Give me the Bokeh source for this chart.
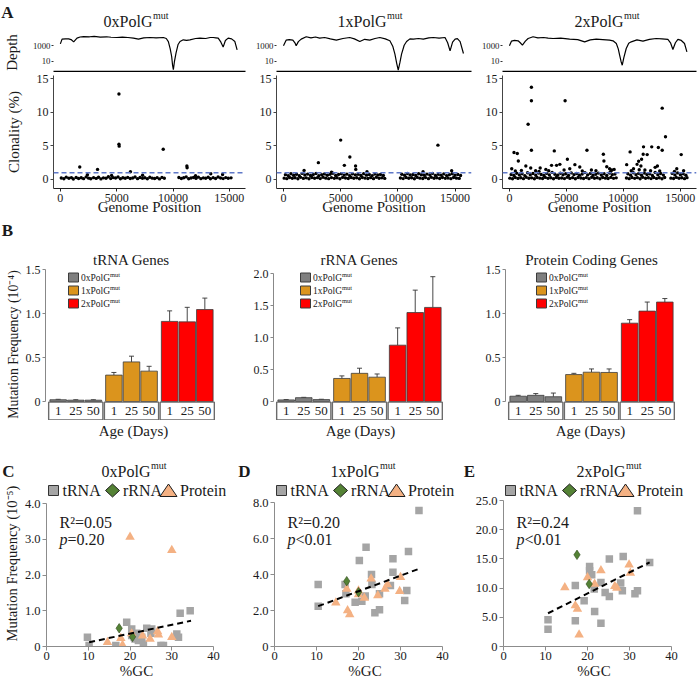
import math
from bokeh.plotting import figure
from bokeh.models import (Range1d, FactorRange, FixedTicker, Label, Span, BoxAnnotation, Title,
                          PolyAnnotation, Whisker, TeeHead, ColumnDataSource, BasicTickFormatter)
from bokeh.layouts import row, column
from bokeh.embed import file_html
from bokeh.resources import INLINE
from bokeh.core.properties import value

S = 1.0
def sc(v):
    return int(round(v * S))
FONT = "Liberation Serif"
INK = "#1a1a1a"

# ------------------------------------------------------------------ data
genotypes = ["0x", "1x", "2x"]
geno_names = ["0xPolG", "1xPolG", "2xPolG"]
ages = ["1", "25", "50"]
bar_colors = ["#7F7F7F", "#DB941D", "#FF0000"]

# A: read depth along genome (bp, depth)
depth_0x = [(0,1800),(150,7400),(450,8200),(735,8000),(950,6500),(1180,3300),(1475,10000),(1750,14000),
            (2065,16000),(2600,15000),(3000,17000),(3540,13500),(4100,15000),(4500,13000),(5015,12000),
            (5500,13500),(6000,12000),(6490,10000),(6930,7400),(7400,11000),(7965,12000),(8500,11000),
            (9145,12000),(9400,9000),(9585,3600),(9750,400),(9880,41),(9960,3),(10030,0.8),(10120,8),
            (10265,110),(10450,1500),(10620,3600),(10910,6000),(11200,5000),(11500,6000),(12000,9000),
            (12390,10000),(12900,9000),(13300,12000),(13570,12000),(13800,11000),(14010,10000),(14250,3000),
            (14450,680),(14650,5000),(14895,10000),(15200,8000),(15490,3600),(15690,300)]
depth_1x = [(0,1000),(230,5500),(500,6500),(820,5500),(1000,2500),(1110,1000),(1300,3500),(1550,7400),
            (1990,15000),(2400,11000),(2800,14000),(3160,10000),(3600,12000),(4100,8000),(4620,5500),
            (5200,9000),(5790,12000),(6200,8000),(6670,3600),(7100,7000),(7540,5500),(8000,9000),
            (8420,12000),(8900,8000),(9300,4500),(9550,900),(9740,83),(9900,5),(10030,0.7),(10170,6),
            (10320,83),(10550,1200),(10760,3600),(11050,8000),(11350,7400),(11800,9000),(12220,7400),
            (12700,11000),(13100,12000),(13600,10000),(14120,12000),(14350,2500),(14560,220),(14780,3000),
            (15000,7400),(15200,8500),(15440,3600),(15730,100)]
depth_2x = [(0,1000),(175,4000),(450,5000),(760,4500),(950,2500),(1140,1250),(1400,4000),(1640,9000),
            (2075,15000),(2500,11000),(3000,12000),(3400,10000),(3830,9000),(4500,10000),(5290,7400),
            (6000,6500),(6610,3300),(7100,6000),(7630,7400),(8200,6500),(8800,5500),(9100,4500),
            (9390,2000),(9560,400),(9680,60),(9800,10),(9910,3),(10050,30),(10260,450),(10480,2200),
            (10700,3300),(11200,6000),(11730,4000),(12300,7000),(12890,9000),(13400,8000),(13920,6800),
            (14150,2500),(14360,330),(14580,2500),(14800,6800),(15100,5000),(15380,2000),(15590,160)]

# A: clonality (%) of variants (bp, %)
clon_0x = [(80,.22),(310,.10),(520,.35),(760,.18),(980,.28),(1150,.08),(1400,.30),(1620,.15),(1850,.25),
           (2060,.12),(2290,.38),(2510,.20),(2700,.10),(2950,.27),(3180,.16),(3390,.33),(3600,.09),
           (3820,.24),(4050,.19),(4260,.40),(4470,.13),(4690,.28),(4900,.21),(5120,.36),(5330,.11),
           (5550,.26),(5760,.18),(5980,.31),(6200,.14),(6420,.23),(6630,.37),(6850,.12),(7070,.29),
           (7290,.17),(7500,.25),(7720,.10),(7940,.34),(8160,.20),(8370,.15),(8590,.27),(8800,.09),
           (9020,.31),(9230,.18),(10520,.30),(10740,.14),(10950,.25),(11170,.38),(11390,.11),(11600,.22),
           (11820,.29),(12040,.16),(12250,.35),(12470,.12),(12690,.24),(12900,.19),(13120,.33),(13320,.10),
           (13560,.27),(13780,.15),(14000,.36),(14220,.21),(14450,.13),(14680,.28),(14900,.18),(15150,.24),
           (2400,.70),(4550,.60),(7300,.62),(12000,.55),(13350,.85),(14400,.75),
           (1720,1.85),(3300,1.5),(5200,12.7),(5200,5.25),(5220,4.95),(6220,1.15),(9130,4.5),
           (11230,2.0),(11250,1.75)]
clon_1x = [(60,.2),(290,.12),(530,.3),(770,.18),(1010,.25),(1260,.1),(1500,.32),(1740,.16),(1990,.24),
           (2230,.11),(2480,.3),(2720,.19),(2970,.27),(3210,.13),(3460,.33),(3700,.2),(3950,.12),(4190,.28),
           (4440,.17),(4680,.25),(4930,.1),(5170,.31),(5420,.21),(5660,.14),(5910,.29),(6150,.18),(6400,.26),
           (6640,.11),(6890,.3),(7130,.2),(7380,.15),(7620,.27),(7870,.12),(8110,.32),(8360,.19),(8600,.24),
           (8850,.16),(10220,.22),(10460,.13),(10710,.3),(10950,.18),(11200,.26),(11440,.11),(11690,.31),
           (11930,.2),(12180,.15),(12420,.28),(12670,.12),(12910,.33),(13160,.19),(13400,.25),(13650,.14),
           (13890,.29),(14140,.17),(14380,.23),(14630,.12),(14870,.3),(15120,.2),(15360,.16),
           (170,.72),(410,.58),(650,.85),(890,.63),(1140,.78),(1380,.55),(1630,.9),(1870,.66),(2110,.8),
           (2360,.6),(2600,.74),(2850,.88),(3090,.57),(3340,.7),(3580,.83),(3830,.62),(4070,.77),(4320,.92),
           (4560,.6),(4810,.73),(5050,.86),(5300,.65),(5540,.79),(5790,.56),(6030,.84),(6280,.69),(6520,.76),
           (6770,.6),(7010,.87),(7260,.64),(7500,.75),(7750,.58),(7990,.81),(8240,.67),(8480,.74),(8730,.6),
           (10340,.78),(10580,.62),(10830,.88),(11070,.66),(11320,.74),(11560,.59),(11810,.85),(12050,.7),
           (12300,.62),(12540,.8),(12790,.67),(13030,.9),(13280,.61),(13520,.76),(13770,.64),(14010,.83),
           (14260,.58),(14500,.72),(14750,.86),(14990,.63),(15240,.75),(15480,.6),
           (1800,1.35),(4200,1.1),(7300,1.15),(12200,1.15),(14700,1.3),
           (3050,2.5),(5000,5.85),(5320,2.1),(5800,3.35),(6300,2.0),(6320,1.5),(13500,5.1)]
clon_2x = [(40,.2),(270,.1),(510,.3),(750,.16),(990,.26),(1230,.12),(1470,.33),(1710,.18),(1950,.24),
           (2190,.1),(2430,.29),(2670,.2),(2910,.14),(3150,.31),(3390,.17),(3630,.25),(3870,.11),(4110,.3),
           (4350,.19),(4590,.23),(4830,.13),(5070,.32),(5310,.16),(5550,.27),(5790,.1),(6030,.3),(6270,.21),
           (6510,.15),(6750,.28),(6990,.12),(7230,.33),(7470,.18),(7710,.26),(7950,.11),(8190,.29),(8430,.2),
           (8670,.15),(8910,.31),(9150,.17),(9380,.24),(10280,.21),(10520,.12),(10760,.3),(11000,.17),
           (11240,.27),(11480,.1),(11720,.32),(11960,.19),(12200,.25),(12440,.13),(12680,.3),(12920,.16),
           (13160,.26),(13400,.11),(13640,.29),(14180,.2),(14420,.14),(14660,.31),(14900,.18),(15140,.25),
           (15380,.12),(15600,.27),
           (150,.75),(390,.6),(630,.92),(870,.68),(1110,.84),(1350,.58),(1590,1.0),(1830,.7),(2070,.88),
           (2310,.62),(2550,.95),(2790,.73),(3030,.6),(3270,.9),(3510,.66),(3750,1.05),(3990,.77),(4230,.62),
           (4470,.93),(4710,.7),(4950,.85),(5190,.6),(5430,.98),(5670,.72),(5910,.88),(6150,.64),(6390,.8),
           (6630,1.02),(6870,.68),(7110,.9),(7350,.62),(7590,.78),(7830,.95),(8070,.66),(8310,.86),(8550,.6),
           (8790,.97),(9030,.72),(9270,.8),(10400,.85),(10640,.64),(10880,1.0),(11120,.7),(11360,.9),
           (11600,.62),(11840,.96),(12080,.74),(12320,.86),(12560,.6),(12800,1.04),(13040,.7),(13280,.88),
           (13520,.65),(14300,.9),(14540,.68),(14780,.98),(15020,.72),(15260,.84),(15500,.62),
           (520,1.25),(1050,1.35),(2600,1.2),(3450,1.3),(4800,1.4),(6400,1.25),(7600,1.3),(8900,1.2),
           (9200,1.5),(10700,1.3),(11400,1.45),(12400,1.3),(13200,1.25),(14500,1.2),(15300,1.3),
           (1930,13.7),(1930,11.7),(1640,8.2),(1930,4.35),(4890,11.7),(400,4.0),(690,3.85),(780,2.75),
           (3940,4.25),(6810,4.35),(5090,3.0),(8250,3.75),(8300,2.75),(10600,4.1),(11780,4.85),(12500,4.85),
           (13080,4.75),(13420,4.35),(13420,10.6),(13710,6.35),(15090,3.7),(11610,3.0),(11750,3.75),
           (11210,2.25),(11350,2.7),(1440,2.0),(1870,1.7),(3700,2.1),(4140,2.1),(4430,2.25),(5750,2.2),
           (6180,1.85),(2700,1.7),(3200,1.5),(8550,1.9),(8800,1.6),(10300,2.2),(12100,3.7),(12800,1.8),
           (13000,2.0),(14700,1.6),(200,1.6),(2300,1.3),(5300,1.6),(7200,1.4),(9000,1.4),(10900,1.6),
           (11550,2.0),(11900,1.4)]
clonality_threshold = 1.0

# B: mutation frequency (1e-4) by genotype x age
trna_mean = [0.02, 0.015, 0.015, 0.30, 0.45, 0.345, 0.91, 0.905, 1.045]
trna_upper = [0.025, 0.02, 0.02, 0.33, 0.515, 0.40, 1.03, 1.07, 1.175]
rrna_mean = [0.025, 0.06, 0.03, 0.36, 0.44, 0.38, 0.88, 1.39, 1.47]
rrna_upper = [0.03, 0.065, 0.035, 0.40, 0.52, 0.43, 1.15, 1.74, 1.95]
prot_mean = [0.06, 0.07, 0.054, 0.306, 0.333, 0.33, 0.89, 1.027, 1.13]
prot_upper = [0.07, 0.09, 0.096, 0.32, 0.37, 0.37, 0.93, 1.13, 1.17]

# C-E: %GC vs mutation frequency (1e-5)
C_trna = [(9.8,0.26),(10.2,0.03),(16.6,0.03),(19.2,0.68),(20.4,0.49),(20.4,0.31),(21.2,0.21),(21.6,0.37),
          (22.0,0.17),(22.8,0.26),(23.2,0.06),(24.0,0.51),(25.0,0.37),(25.2,0.49),(28.0,0.03),(31.2,0.35),
          (31.6,0.26),(32.0,0.93),(34.4,1.0),(21.0,0.25),(27.4,0.03)]
C_rrna = [(17.4,0.51),(20.6,0.27)]
C_prot = [(20.0,3.06),(30.0,2.69),(14.6,0.12),(17.8,0.23),(18.2,0.04),(20.4,0.36),(24.8,0.21),
          (26.6,0.42),(26.8,0.33),(30.0,0.26),(23.0,0.3)]
C_fit = dict(slope=0.0246, intercept=-0.131, x0=10.2, x1=34.6, r2="0.05", p="=0.20")

D_trna = [(10.4,3.44),(10.4,2.24),(16.8,3.44),(17.0,2.93),(19.2,2.46),(20.2,4.78),(20.8,2.52),(21.6,2.80),
          (21.8,5.52),(23.1,4.0),(23.2,3.44),(23.9,1.87),(25.0,2.04),(25.0,2.93),(28.2,4.87),(28.2,4.13),
          (27.6,3.39),(31.0,2.56),(31.5,3.11),(31.9,5.28),(34.4,7.56)]
D_rrna = [(17.2,3.63),(20.0,3.02)]
D_prot = [(14.6,2.43),(17.4,2.0),(17.9,1.78),(17.2,3.2),(20.0,2.89),(20.0,3.1),(21.4,2.7),(23.0,3.76),
          (24.6,2.83),(26.3,3.2),(26.9,3.44),(29.8,3.07),(30.0,3.85)]
D_fit = dict(slope=0.0865, intercept=1.34, x0=10.4, x1=34.8, r2="0.20", p="<0.01")

E_trna = [(10.6,4.57),(10.6,2.97),(17.1,10.46),(17.1,4.4),(19.2,7.83),(20.5,13.7),(20.5,12.97),(21.0,12.3),
          (21.6,9.83),(21.7,6.0),(23.2,10.97),(23.2,4.0),(24.2,9.26),(25.2,14.97),(25.2,8.57),(27.9,10.86),
          (28.3,9.54),(28.5,15.4),(31.3,9.03),(31.9,9.54),(31.9,23.26),(34.8,14.4)]
E_rrna = [(17.5,15.7),(20.4,10.7)]
E_prot = [(14.6,10.1),(17.1,7.0),(17.6,6.4),(18.0,2.0),(20.0,11.8),(21.7,10.7),(23.2,13.0),(26.5,10.3),
          (27.0,10.0),(29.9,14.0),(30.2,12.6)]
E_fit = dict(slope=0.36, intercept=1.88, x0=10.6, x1=34.8, r2="0.24", p="<0.01")

# ------------------------------------------------------------------ layout (reference px)
BAND_A = (0, 33)
ROW_A_DEPTH = (33, 72)
ROW_A_CLON = (72, 218)
BAND_B = (218, 245)
ROW_B = (245, 420)
BAND_AGE = (420, 440)
BAND_C = (440, 480)
ROW_C = (480, 683)
COLS_A = [(0, 252), (252, 478), (478, 700)]
FR_A = [(49, 245), (275, 471), (500, 696)]
DEPTH_FY = (33, 71)
CLON_FY = (75, 188)
COLS_B = [(0, 240), (240, 470), (470, 700)]
FR_B = [(45, 217), (273, 445), (505, 677)]
B_FY = (268, 420)
B_ZERO = 401
COLS_C = [(0, 230), (230, 460), (460, 700)]
FR_C = [(45, 226), (274, 455), (503, 684)]
C_FY = (480, 646)
FULL = (0, 700)


class Pan:
    def __init__(self, cols, rows, fx, fy, x_range, y_range, **kw):
        c0, c1 = cols
        r0, r1 = rows
        self.L, self.R = fx
        self.T, self.B = fy
        self.p = figure(width=sc(c1) - sc(c0), height=sc(r1) - sc(r0), x_range=x_range, y_range=y_range,
                        output_backend="svg", toolbar_location=None,
                        min_border_left=sc(fx[0]) - sc(c0), min_border_right=sc(c1) - sc(fx[1]),
                        min_border_top=sc(fy[0]) - sc(r0), min_border_bottom=sc(r1) - sc(fy[1]), **kw)
        p = self.p
        p.outline_line_color = None
        p.xgrid.visible = False
        p.ygrid.visible = False
        p.background_fill_color = "white"
        p.border_fill_color = "white"

    def sx(self, X):
        return (X - self.L) * S

    def sy(self, Y):
        return (self.B - Y) * S

    def text(self, X, Y, t, size, align="center", baseline="middle", angle=0.0, style="normal", color=INK):
        self.p.add_layout(Label(x=self.sx(X), y=self.sy(Y), x_units="screen", y_units="screen", text=t,
                                text_font=FONT, text_font_size=f"{size * S:.2f}px", text_align=align,
                                text_baseline=baseline, angle=angle, text_font_style=style, text_color=color))

    def box(self, X0, Y0, X1, Y1, fill, line="#333333"):
        self.p.add_layout(BoxAnnotation(left=self.sx(X0), right=self.sx(X1), top=self.sy(Y0), bottom=self.sy(Y1),
                                        left_units="screen", right_units="screen", top_units="screen",
                                        bottom_units="screen", fill_color=fill, fill_alpha=1.0,
                                        line_color=line, line_alpha=1.0, line_width=1))

    def poly(self, pts, fill, line="#333333"):
        self.p.add_layout(PolyAnnotation(xs=[self.sx(a) for a, b in pts], ys=[self.sy(b) for a, b in pts],
                                         xs_units="screen", ys_units="screen", fill_color=fill, fill_alpha=1.0,
                                         line_color=line, line_alpha=1.0, line_width=1))

    def sup_title(self, Xj, Y, main, sup, size, sup_size):
        self.text(Xj, Y, main, size, align="right")
        self.text(Xj + 0.5, Y - size * 0.33, sup, sup_size, align="left")


def text_fig(cols, rows):
    return Pan(cols, rows, cols, rows, Range1d(0, 1), Range1d(0, 1),
               x_axis_location=None, y_axis_location=None)


def style_axis(ax, size=12.0, line_color="#333333", tick_out=3, standoff=2):
    ax.major_label_text_font = FONT
    ax.major_label_text_font_size = f"{size * S:.2f}px"
    ax.major_label_text_color = INK
    ax.axis_line_color = line_color
    ax.major_tick_line_color = line_color
    ax.major_tick_out = tick_out
    ax.major_tick_in = 0
    ax.minor_tick_line_color = None
    ax.major_label_standoff = standoff


def axis_title(ax, text, standoff, size=15.0):
    ax.axis_label = text
    ax.axis_label_text_font = FONT
    ax.axis_label_text_font_size = f"{size * S:.2f}px"
    ax.axis_label_text_font_style = "normal"
    ax.axis_label_text_color = INK
    ax.axis_label_standoff = standoff


def unzip(pts):
    return [a for a, b in pts], [b for a, b in pts]


# ------------------------------------------------------------------ panel A
bandA = text_fig(FULL, BAND_A)
bandA.text(7, 12, "A", 17, style="bold")
for xj, nm in zip([152, 386, 623], geno_names):
    bandA.sup_title(xj, 20.5, nm, "mut", 16, 10)

A_PX_PER_BP = 0.0115
A_X0 = -610.0
depth_sets = [depth_0x, depth_1x, depth_2x]
clon_sets = [clon_0x, clon_1x, clon_2x]

colA = []
for i in range(3):
    fx = FR_A[i]
    xr_end = A_X0 + (fx[1] - fx[0]) / A_PX_PER_BP
    dp = Pan(COLS_A[i], ROW_A_DEPTH, fx, DEPTH_FY, Range1d(A_X0, xr_end), Range1d(0.46, 40000),
             y_axis_type="log")
    dx, dy = unzip(depth_sets[i])
    dp.p.line(dx, dy, line_color="black", line_width=1.2)
    ya = dp.p.yaxis[0]
    style_axis(ya, size=8.8, tick_out=2, standoff=1)
    ya.axis_line_color = None
    ya.ticker = FixedTicker(ticks=[10, 1000])
    ya.formatter = BasicTickFormatter()
    xa = dp.p.xaxis[0]
    xa.ticker = FixedTicker(ticks=[])
    xa.axis_line_color = "black"
    xa.axis_line_width = 1.5
    xa.major_tick_line_color = None
    xa.major_label_standoff = 0
    if i == 0:
        axis_title(ya, "Depth", 10)

    cp = Pan(COLS_A[i], ROW_A_CLON, fx, CLON_FY, Range1d(A_X0, xr_end), Range1d(-1.34, 15.45))
    cx, cy = unzip(clon_sets[i])
    cp.p.scatter(cx, cy, size=3.4, fill_color="black", line_color=None)
    cp.p.add_layout(Span(location=clonality_threshold, dimension="width", line_color="#5F78C8",
                         line_dash="5 3", line_width=1.3))
    ya = cp.p.yaxis[0]
    style_axis(ya, size=12, line_color="#444444")
    ya.ticker = FixedTicker(ticks=[0, 5, 10, 15])
    xa = cp.p.xaxis[0]
    style_axis(xa, size=12, line_color="#222222")
    xa.axis_line_width = 1.2
    xa.ticker = FixedTicker(ticks=[0, 5000, 10000, 15000])
    xa.formatter = BasicTickFormatter(use_scientific=False)
    axis_title(xa, "Genome Position", -6)
    if i == 0:
        axis_title(ya, "Clonality (%)", 12)
    colA.append(column(dp.p, cp.p))

# ------------------------------------------------------------------ panel B
bandB = text_fig(FULL, BAND_B)
bandB.text(7, 230, "B", 17, style="bold")
bandAge = text_fig(FULL, BAND_AGE)
for ax_x in [133, 360, 590]:
    bandAge.text(ax_x, 430.5, "Age (Days)", 15)

factors = [(g, a) for g in genotypes for a in ages]
bar_fill = [bar_colors[k // 3] for k in range(9)]
B_PPU = [88.0, 64.0, 88.0]
B_TICKS = [[0, 0.5, 1.0, 1.5], [0, 0.5, 1.0, 1.5, 2.0], [0, 0.5, 1.0, 1.5]]
B_TITLES = ["tRNA Genes", "rRNA Genes", "Protein Coding Genes"]
B_TITLE_OFF = [4, 1, -4]
B_LEG_X = [68, 300, 536]
B_LEG_Y = [277, 290, 303]
means = [trna_mean, rrna_mean, prot_mean]
uppers = [trna_upper, rrna_upper, prot_upper]

rowB = []
for i in range(3):
    ppu = B_PPU[i]
    strip = (B_FY[1] - B_ZERO) / ppu
    top = (B_ZERO - B_FY[0]) / ppu
    xr = FactorRange(*factors, factor_padding=0.0, group_padding=0.1667, range_padding=0.22,
                     range_padding_units="absolute")
    bp = Pan(COLS_B[i], ROW_B, FR_B[i], B_FY, xr, Range1d(-strip, top), x_axis_location=None)
    src = ColumnDataSource(dict(x=factors, top=means[i], hi=uppers[i], color=bar_fill))
    bp.p.vbar(x="x", top="top", width=0.94, fill_color="color", line_color="#3c3c3c", line_width=0.8,
              source=src)
    bp.p.add_layout(Whisker(source=src, base="x", lower="top", upper="hi", dimension="height",
                            line_color="#333333", line_width=0.9,
                            upper_head=TeeHead(size=5, line_color="#333333", line_width=0.9),
                            lower_head=None))
    # facet strips with age labels
    ssrc = ColumnDataSource(dict(x=[(g, ages[1]) for g in genotypes]))
    bp.p.rect(x="x", y=-strip / 2, width=3.08, height=strip * 0.93, fill_color="white",
              line_color="#6b6b6b", line_width=1.4, source=ssrc)
    tsrc = ColumnDataSource(dict(x=factors, y=[-strip / 2] * len(factors), t=[a for g, a in factors]))
    bp.p.text(x="x", y="y", text="t", source=tsrc, text_font=value(FONT),
              text_font_size=f"{13 * S:.2f}px", text_align="center", text_baseline="middle",
              text_color=INK)
    ya = bp.p.yaxis[0]
    style_axis(ya, size=12, line_color="#888888")
    ya.ticker = FixedTicker(ticks=B_TICKS[i])
    ya.major_label_overrides = {t: ("0" if t == 0 else f"{t:.1f}") for t in B_TICKS[i]}
    ya.bounds = (0, B_TICKS[i][-1])
    bp.p.add_layout(Title(text=B_TITLES[i], align="center", offset=B_TITLE_OFF[i], standoff=2,
                          text_font=FONT, text_font_size=f"{15 * S:.2f}px", text_font_style="normal",
                          text_color=INK), "above")
    for k in range(3):
        lx = B_LEG_X[i]
        ly = B_LEG_Y[k]
        bp.box(lx, ly - 4.5, lx + 10, ly + 4.5, bar_colors[k], "#3c3c3c")
        bp.text(lx + 12.5, ly, geno_names[k], 9.5, align="left")
        bp.text(lx + 12.5 + 3.056 * 9.5, ly - 3, "mut", 6.5, align="left")
    if i == 0:
        axis_title(ya, "Mutation Frequency (10\u207b\u2074)", 2, size=13.8)
    rowB.append(bp.p)

# ------------------------------------------------------------------ panels C-E
GRAY = "#A5A5A5"
GREEN = "#548235"
PEACH = "#F4B183"

bandC = text_fig(FULL, BAND_C)
for (letter, lx) in [("C", 8), ("D", 244), ("E", 469)]:
    bandC.text(lx, 470.5, letter, 17, style="bold")
for xj, nm in zip([150, 379, 625], geno_names):
    bandC.sup_title(xj, 470.5, nm, "mut", 16, 10)

C_PPU_X = 4.2
C_PPU_Y = [35.75, 18.0, 5.84]
C_TICKS = [[0, 1, 2, 3, 4], [0, 2, 4, 6, 8], [0, 5, 10, 15, 20, 25]]
sc_sets = [(C_trna, C_rrna, C_prot, C_fit), (D_trna, D_rrna, D_prot, D_fit), (E_trna, E_rrna, E_prot, E_fit)]

rowC = []
for i in range(3):
    fx = FR_C[i]
    trna, rrna, prot, fit = sc_sets[i]
    xr = Range1d(0, (fx[1] - fx[0]) / C_PPU_X)
    yr = Range1d(0, (C_FY[1] - C_FY[0]) / C_PPU_Y[i])
    cp = Pan(COLS_C[i], ROW_C, fx, C_FY, xr, yr)
    x, y = unzip(trna)
    cp.p.scatter(x, y, marker="square", size=7.5 * S, fill_color=GRAY, line_color=None)
    x, y = unzip(prot)
    cp.p.scatter(x, y, marker="triangle", size=9.5 * S, fill_color=PEACH, line_color=None)
    x, y = unzip(rrna)
    cp.p.scatter(x, y, marker="diamond", size=9.5 * S, fill_color=GREEN, line_color="#2f4a1d",
                 line_width=0.6)
    fxs = [fit["x0"], fit["x1"]]
    fys = [fit["intercept"] + fit["slope"] * v for v in fxs]
    cp.p.line(fxs, fys, line_color="black", line_width=2, line_dash="6 4")
    ya = cp.p.yaxis[0]
    style_axis(ya, size=12.5, line_color="#8c8c8c", tick_out=4, standoff=2)
    ya.ticker = FixedTicker(ticks=C_TICKS[i])
    ya.major_label_overrides = {t: ("0" if t == 0 else f"{t:.1f}") for t in C_TICKS[i]}
    ya.bounds = (0, C_TICKS[i][-1])
    xa = cp.p.xaxis[0]
    style_axis(xa, size=12.5, line_color="#8c8c8c", tick_out=4, standoff=1)
    xa.ticker = FixedTicker(ticks=[0, 10, 20, 30, 40])
    xa.bounds = (0, 40)
    axis_title(xa, "%GC", 0)
    L = fx[0]
    ly = 490
    cp.box(L + 2, ly - 5, L + 12, ly + 5, GRAY, "#333333")
    cp.text(L + 16, ly, "tRNA", 16, align="left")
    cp.poly([(L + 59, ly), (L + 66, ly - 6.5), (L + 73, ly), (L + 66, ly + 6.5)], GREEN, "#1e1e1e")
    cp.text(L + 76.5, ly, "rRNA", 16, align="left")
    cp.poly([(L + 113.5, ly + 6), (L + 122, ly - 6.5), (L + 130.5, ly + 6)], PEACH, "#1e1e1e")
    cp.text(L + 133.5, ly, "Protein", 16, align="left")
    cp.text(L + 13, 522, "R\u00b2=" + fit["r2"], 16, align="left")
    cp.text(L + 13, 539, "p", 16, align="left", style="italic")
    cp.text(L + 21, 539, fit["p"], 16, align="left")
    if i == 0:
        axis_title(ya, "Mutation Frequency (10\u207b\u2075)", 2, size=14.5)
    rowC.append(cp.p)

layout = column(bandA.p, row(*colA), bandB.p, row(*rowB), bandAge.p, bandC.p, row(*rowC))
open("out.html", "w").write(file_html(layout, INLINE, title="PolG mutation spectra"))
